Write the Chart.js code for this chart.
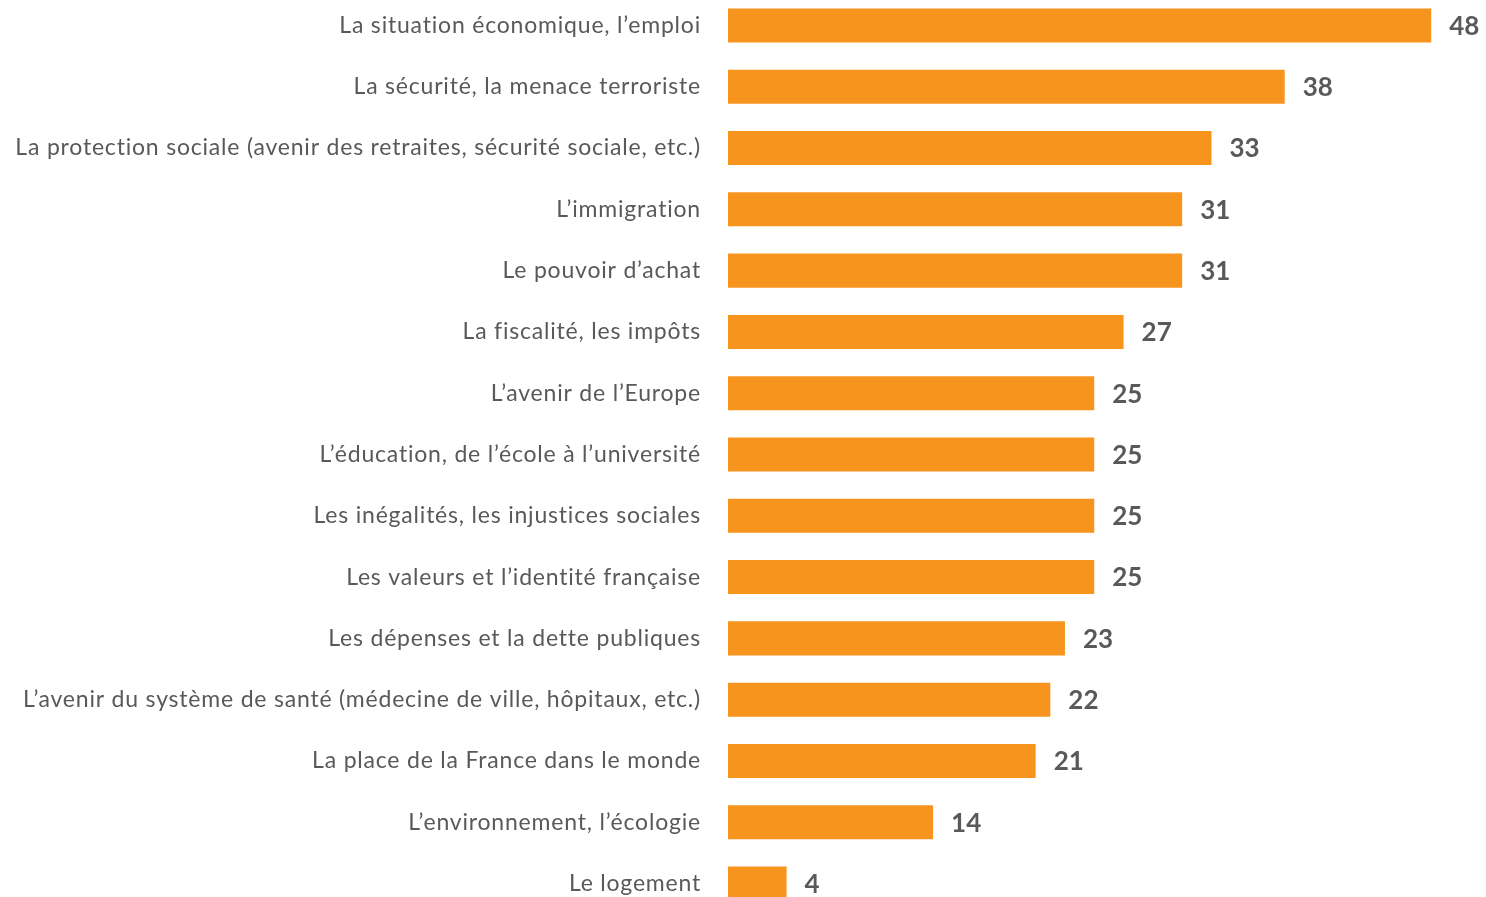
<!DOCTYPE html>
<html>
<head>
<meta charset="utf-8">
<script src="https://cdn.jsdelivr.net/npm/chart.js@4/dist/chart.umd.min.js"></script>
<style>
html,body{margin:0;padding:0;background:#fff;overflow:hidden;width:1486px;height:897px;}
#wrap{position:absolute;left:0;top:-38px;width:1486px;height:985px;}
</style>
</head>
<body>
<div id="wrap"><canvas id="c" width="1486" height="985"></canvas></div>
<script>
const categories = [
  "La situation économique, l’emploi",
  "La sécurité, la menace terroriste",
  "La protection sociale (avenir des retraites, sécurité sociale, etc.)",
  "L’immigration",
  "Le pouvoir d’achat",
  "La fiscalité, les impôts",
  "L’avenir de l’Europe",
  "L’éducation, de l’école à l’université",
  "Les inégalités, les injustices sociales",
  "Les valeurs et l’identité française",
  "Les dépenses et la dette publiques",
  "L’avenir du système de santé (médecine de ville, hôpitaux, etc.)",
  "La place de la France dans le monde",
  "L’environnement, l’écologie",
  "Le logement"
];
const values = [48, 38, 33, 31, 31, 27, 25, 25, 25, 25, 23, 22, 21, 14, 4];

const spacing = {
  id: 'spacing',
  beforeDraw(chart) { chart.ctx.letterSpacing = '0.8px'; }
};

const valueLabels = {
  id: 'valueLabels',
  afterDatasetsDraw(chart) {
    const ctx = chart.ctx;
    const meta = chart.getDatasetMeta(0);
    ctx.save();
    ctx.letterSpacing = '0px';
    ctx.font = 'bold 26px Lato';
    ctx.fillStyle = '#595959';
    ctx.textAlign = 'left';
    ctx.textBaseline = 'middle';
    meta.data.forEach((bar, i) => {
      ctx.fillText(String(values[i]), bar.x + 18, bar.y + 1);
    });
    ctx.restore();
  }
};

new Chart(document.getElementById('c'), {
  type: 'bar',
  data: {
    labels: categories,
    datasets: [{
      data: values,
      backgroundColor: '#F7941D',
      borderWidth: 0,
      barPercentage: 0.555,
      categoryPercentage: 1.0
    }]
  },
  options: {
    indexAxis: 'y',
    responsive: false,
    animation: false,
    layout: { padding: { left: 0, right: 25.5, top: 0, bottom: 0 } },
    plugins: { legend: { display: false }, tooltip: { enabled: false } },
    scales: {
      x: {
        min: 0, max: 50,
        display: false,
        grid: { display: false }
      },
      y: {
        grid: { display: false },
        border: { display: false },
        ticks: {
          color: '#595959',
          font: { family: 'Lato', size: 23 },
          padding: 19,
          autoSkip: false
        },
        afterFit(scale) { scale.width = 728; }
      }
    }
  },
  plugins: [spacing, valueLabels]
});
</script>
</body>
</html>
